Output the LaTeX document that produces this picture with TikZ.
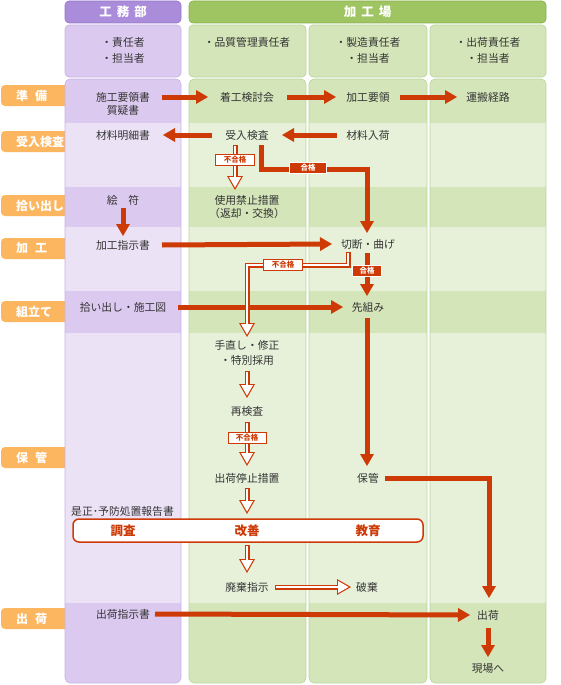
\documentclass[tikz,border=0pt]{standalone}
\usepackage{fontspec}
\setmainfont{Noto Sans CJK JP}
\usetikzlibrary{arrows.meta}
\definecolor{textgray}{HTML}{333333}
\definecolor{arrowred}{HTML}{CD3A05}
\definecolor{orangeLab}{HTML}{FDB660}
\definecolor{purpleHead}{HTML}{AB8CDB}
\definecolor{purpleHeadB}{HTML}{9477C9}
\definecolor{purpleDark}{HTML}{DCC9F0}
\definecolor{purpleLight}{HTML}{EBE2F6}
\definecolor{purpleBorder}{HTML}{C7B3E3}
\definecolor{greenHead}{HTML}{9FC562}
\definecolor{greenHeadB}{HTML}{88B04C}
\definecolor{greenDark}{HTML}{D3E5B9}
\definecolor{greenLight}{HTML}{E7F1DA}
\definecolor{greenBorder}{HTML}{BCD49C}
\begin{document}
\begin{tikzpicture}[x=1pt,y=-1pt,
  txt/.style={text=textgray, inner sep=0pt, font=\fontsize{10.8}{13}\selectfont},
  hdr/.style={text=white, inner sep=0pt, font=\fontsize{12.5}{14}\selectfont\bfseries, rounded corners=4, line width=0.6pt},
  stagetxt/.style={text=white, inner sep=0pt, anchor=west, font=\fontsize{12}{14}\selectfont\bfseries},
  redarr/.style={draw=arrowred, line width=5pt, line join=miter, -{Triangle[length=12pt,width=14pt,line width=0pt]}},
  holout/.style={draw=arrowred, line width=5pt, line join=miter, -{Triangle[length=14pt,width=16pt,line width=0pt]}},
  holin/.style={draw=white, line width=2.6pt, line join=miter, -{Triangle[length=10.4pt,width=11.9pt,line width=0pt]}, shorten >=2.4pt, shorten <=1.2pt},
  nglab/.style={draw=arrowred, fill=white, text=arrowred, line width=0.8pt, inner sep=0pt, font=\fontsize{7.5}{8}\selectfont\bfseries, minimum height=11pt},
  oklab/.style={draw=white, fill=arrowred, text=white, line width=0.8pt, inner sep=0pt, font=\fontsize{7.5}{8}\selectfont\bfseries, minimum height=11pt},
  boxtxt/.style={text=arrowred, inner sep=0pt, font=\fontsize{12.5}{14}\selectfont\bfseries},
]
\useasboundingbox (0,0) rectangle (560,685);
% stage labels (background shapes)
\foreach \ya/\yb in {85/106,131/152,195/216,238/259,301/322,447/468,608/629}
  \fill[orangeLab, rounded corners=4] (1,\ya) rectangle (72,\yb);
% headers
\node[hdr, fill=purpleHead, draw=purpleHeadB, minimum width=116pt, minimum height=22pt] (hKoumu) at (123,12) {工\hspace{5pt}務\hspace{5pt}部};
\node[hdr, fill=greenHead, draw=greenHeadB, minimum width=357pt, minimum height=22pt] (hKoujou) at (367.5,12) {加\hspace{5pt}工\hspace{5pt}場};
% sub header boxes
\foreach \xl/\xr/\colA/\colB in {65/181/purpleDark/purpleBorder, 189/306/greenDark/greenBorder, 309/427/greenDark/greenBorder, 430/546/greenDark/greenBorder}
  \filldraw[fill=\colA, draw=\colB, line width=0.6pt, rounded corners=4] (\xl,25) rectangle (\xr,77);
% column bodies
\foreach \xl/\xr/\colL/\colD/\colB in {65/181/purpleLight/purpleDark/purpleBorder, 189/306/greenLight/greenDark/greenBorder, 309/427/greenLight/greenDark/greenBorder, 430/546/greenLight/greenDark/greenBorder}{
  \begin{scope}
    \clip[rounded corners=5] (\xl,79) rectangle (\xr,683);
    \fill[fill=\colL] (\xl,79) rectangle (\xr,683);
    \foreach \ya/\yb in {79/123,187/227,291/333,603/683}
      \fill[fill=\colD] (\xl,\ya) rectangle (\xr,\yb);
  \end{scope}
  \draw[draw=\colB, line width=0.6pt, rounded corners=5] (\xl,79) rectangle (\xr,683);
}
% stage texts
\node[stagetxt] (sJunbi) at (16,95.5) {準\hspace{7pt}備};
\node[stagetxt] (sUkeire) at (16,141.5) {受入検査};
\node[stagetxt] (sHiroi) at (16,205.5) {拾い出し};
\node[stagetxt] (sKakou) at (16,248.5) {加\hspace{7pt}工};
\node[stagetxt] (sKumi) at (16,311.5) {組立て};
\node[stagetxt] (sHokan) at (16,457.5) {保\hspace{7pt}管};
\node[stagetxt] (sShukka) at (16,618.5) {出\hspace{7pt}荷};
% sub header texts
\node[txt] (r1a) at (123,42) {・責任者};
\node[txt] (r1b) at (123,58) {・担当者};
\node[txt] (r2a) at (247,42) {・品質管理責任者};
\node[txt] (r3a) at (368,42) {・製造責任者};
\node[txt] (r3b) at (368,58) {・担当者};
\node[txt] (r4a) at (488,42) {・出荷責任者};
\node[txt] (r4b) at (488,58) {・担当者};
% body texts
\node[txt] (sekou) at (123,97) {施工要領書};
\node[txt] (shitsugi) at (123,110) {質疑書};
\node[txt] (chakkou) at (247,97) {着工検討会};
\node[txt] (kyouryou) at (368,97) {加工要領};
\node[txt] (unpan) at (488,97) {運搬経路};
\node[txt] (meisai) at (123,135) {材料明細書};
\node[txt] (ukeire) at (247,135) {受入検査};
\node[txt] (nyuuka) at (368,135) {材料入荷};
\node[txt] (ekifu) at (123,200) {絵　符};
\node[txt] (kinshi) at (247,200) {使用禁止措置};
\node[txt] (henkyaku) at (247,213) {（返却・交換）};
\node[txt] (kshiji) at (123,245) {加工指示書};
\node[txt] (setsudan) at (368,244) {切断・曲げ};
\node[txt] (hiroidashi) at (123,307) {拾い出し・施工図};
\node[txt] (sakigumi) at (368,307) {先組み};
\node[txt] (tenaoshi) at (247,345) {手直し・修正};
\node[txt] (tokubetsu) at (247,360) {・特別採用};
\node[txt] (saikensa) at (247,411) {再検査};
\node[txt] (teishi) at (247,478) {出荷停止措置};
\node[txt] (hokan) at (368,478) {保管};
\node[txt, anchor=west] (zesei) at (71,511) {是正･予防処置報告書};
\node[draw=arrowred, fill=white, line width=1.5pt, rounded corners=6, minimum width=350pt, minimum height=23pt, inner sep=0pt] (box) at (248,530.5) {};
\node[boxtxt] (chousa) at (123,531) {調査};
\node[boxtxt] (kaizen) at (247,531) {改善};
\node[boxtxt] (kyouiku) at (368,531) {教育};
\node[txt] (haiki) at (247,587) {廃棄指示};
\node[txt] (haki) at (367,587) {破棄};
\node[txt] (sshiji) at (123,614) {出荷指示書};
\node[txt] (shukka) at (488,615) {出荷};
\node[txt] (genba) at (488,668) {現場へ};
% red arrows
\draw[redarr] ([xshift=39]sekou.center) -- ([xshift=-39]chakkou.center);
\draw[redarr] ([xshift=40]chakkou.center) -- ([xshift=-32]kyouryou.center);
\draw[redarr] ([xshift=32]kyouryou.center) -- ([xshift=-31]unpan.center);
\draw[redarr] ([xshift=-35]ukeire.center) -- ([xshift=40]meisai.center);
\draw[redarr] ([xshift=-31]nyuuka.center) -- ([xshift=35]ukeire.center);
\draw[redarr] ([shift={(14,10)}]ukeire.center) -- ++(0,24) -| ([shift={(-1,-11)}]setsudan.center);
\draw[redarr] ([shift={(0,8)}]ekifu.center) -- ([shift={(0,-9)}]kshiji.center);
\draw[redarr] ([xshift=39]kshiji.center) -- ([xshift=-36]setsudan.center);
\draw[redarr] ([shift={(-1,9)}]setsudan.center) -- ([shift={(-1,-11)}]sakigumi.center);
\draw[redarr] ([xshift=55]hiroidashi.center) -- ([xshift=-25]sakigumi.center);
\draw[redarr] ([shift={(-1,11)}]sakigumi.center) -- ([shift={(-1,-12)}]hokan.center);
\draw[redarr] ([xshift=17]hokan.center) -| ([shift={(1,-17)}]shukka.center);
\draw[redarr] ([shift={(32,0)}]sshiji.center) -- ([xshift=-18]shukka.center);
\draw[redarr] ([shift={(0,13)}]shukka.center) -- ([shift={(0,-11)}]genba.center);
% hollow arrows
\draw[holout] ([shift={(-12,10)}]ukeire.center) -- ([shift={(-12,-10)}]kinshi.center);
\draw[holin] ([shift={(-12,10)}]ukeire.center) -- ([shift={(-12,-10)}]kinshi.center);
\draw[holout] ([shift={(-20,8)}]setsudan.center) -- ++(0,13) -| ([shift={(0,-8)}]tenaoshi.center);
\draw[holin] ([shift={(-20,8)}]setsudan.center) -- ++(0,13) -| ([shift={(0,-8)}]tenaoshi.center);
\draw[holout] ([shift={(0,11)}]tokubetsu.center) -- ([shift={(0,-13)}]saikensa.center);
\draw[holin] ([shift={(0,11)}]tokubetsu.center) -- ([shift={(0,-13)}]saikensa.center);
\draw[holout] ([shift={(0,11)}]saikensa.center) -- ([shift={(0,-12)}]teishi.center);
\draw[holin] ([shift={(0,11)}]saikensa.center) -- ([shift={(0,-12)}]teishi.center);
\draw[holout] ([shift={(0,10)}]teishi.center) -- ([shift={(0,-17)}]kaizen.center);
\draw[holin] ([shift={(0,10)}]teishi.center) -- ([shift={(0,-17)}]kaizen.center);
\draw[holout] ([shift={(0,14)}]kaizen.center) -- ([shift={(0,-14)}]haiki.center);
\draw[holin] ([shift={(0,14)}]kaizen.center) -- ([shift={(0,-14)}]haiki.center);
\draw[holout] ([xshift=28]haiki.center) -- ([xshift=-16]haki.center);
\draw[holin] ([xshift=28]haiki.center) -- ([xshift=-16]haki.center);
% labels on connectors
\node[oklab, minimum width=37pt] (ok1) at (308,168) {合格};
\node[nglab, minimum width=39pt] (ng1) at (235,160) {不合格};
\node[nglab, minimum width=39pt] (ng2) at (283,265) {不合格};
\node[oklab, minimum width=29pt] (ok2) at (367,270.5) {合格};
\node[nglab, minimum width=38pt] (ng3) at (247,437.5) {不合格};
\end{tikzpicture}
\end{document}
